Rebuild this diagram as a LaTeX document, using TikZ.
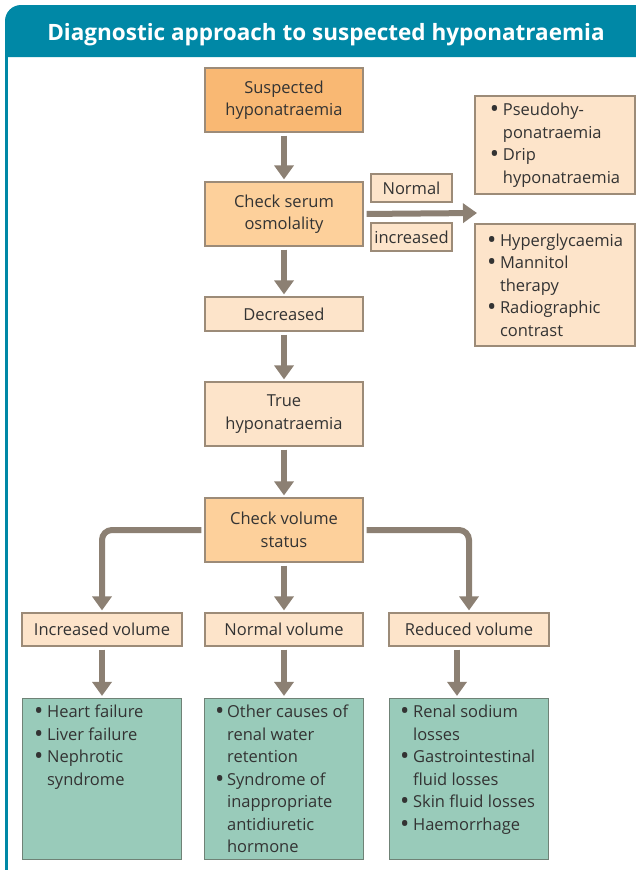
\documentclass[tikz,border=0pt]{standalone}
\usepackage{fontspec}
\usepackage{graphicx}
\setmainfont{Open Sans}
\usetikzlibrary{arrows.meta}
\definecolor{tealc}{HTML}{0088A6}
\definecolor{darkor}{HTML}{F9B873}
\definecolor{midor}{HTML}{FDD09B}
\definecolor{paleor}{HTML}{FDE4CA}
\definecolor{greenc}{HTML}{99CBBA}
\definecolor{bordc}{HTML}{9C8B78}
\definecolor{gbord}{HTML}{6F8276}
\definecolor{arrc}{HTML}{8C8073}
\definecolor{txt}{HTML}{333333}
\newcommand{\bdot}{\raisebox{-2.2pt}{\scalebox{1.5}{\textbullet}}}
\newcommand{\bl}{\makebox[13pt][l]{\bdot}}
\newcommand{\ind}{\hspace*{13pt}}
\begin{document}
\begin{tikzpicture}[x=1pt,y=-1pt,
  base/.style={draw=bordc, line width=1.2pt, inner sep=0pt, align=center, text=txt,
    font=\fontsize{16.5}{22.5}\selectfont},
  darkbox/.style={base, fill=darkor},
  midbox/.style={base, fill=midor},
  palebox/.style={base, fill=paleor},
  greenbox/.style={base, draw=gbord, fill=greenc, minimum width=159, minimum height=161},
  gtext/.style={anchor=north west, inner sep=0pt, align=left, text=txt,
    font=\fontsize{16.5}{22.5}\selectfont},
  arr/.style={draw=arrc, line width=6pt, -{Triangle[length=14pt,width=19pt]},
    shorten <=3pt, shorten >=2pt}
]
\useasboundingbox (0,0) rectangle (636,870);
\fill[white] (0,0) rectangle (636,870);
% frame
\fill[tealc] (5,57) [rounded corners=16pt] -- (5,5) [sharp corners] -- (636,5) -- (636,57) -- cycle;
\fill[tealc] (5,57) rectangle (8,870);
\node[text=white, font=\fontsize{22.5}{26}\selectfont\bfseries] (title) at (326,35) {Diagnostic approach to suspected hyponatraemia};

% main column
\node[darkbox, minimum width=158, minimum height=64] (susp) at (284,100) {Suspected\\hyponatraemia};
\node[midbox, minimum width=158, minimum height=64] (serum) at (284,214) {Check serum\\osmolality};
\node[palebox, minimum width=81, minimum height=28] (normal) at (411.5,188) {Normal};
\node[palebox, minimum width=81, minimum height=28] (incr) at (411.5,237) {increased};
\node[palebox, minimum width=160, minimum height=98, align=left] (pseudo) at (555,145)
  {\bl Pseudohy-\\\ind ponatraemia\\\bl Drip\\\ind hyponatraemia};
\node[palebox, minimum width=160, minimum height=122, align=left] (hyper) at (555,285)
  {\bl Hyperglycaemia\\\bl Mannitol\\\ind therapy\\\bl Radiographic\\\ind contrast};
\coordinate (tipR) at (477,213);
\node[palebox, minimum width=158, minimum height=34] (decr) at (284,314) {Decreased};
\node[palebox, minimum width=158, minimum height=64] (true) at (284,414) {True\\hyponatraemia};
\node[midbox, minimum width=158, minimum height=64] (vol) at (284,530) {Check volume\\status};

% volume row
\node[palebox, minimum width=160, minimum height=33] (incvol) at (102,629.5) {Increased volume};
\node[palebox, minimum width=158, minimum height=33] (normvol) at (284,629.5) {Normal volume};
\node[palebox, minimum width=160, minimum height=33] (redvol) at (469,629.5) {Reduced volume};

% green boxes
\node[greenbox] (g1) at (102,779) {};
\node[greenbox] (g2) at (284,779) {};
\node[greenbox] (g3) at (469,779) {};
\node[gtext] (g1t) at ([xshift=12,yshift=-7]g1.north west)
  {\bl Heart failure\\\bl Liver failure\\\bl Nephrotic\\\ind syndrome};
\node[gtext] (g2t) at ([xshift=11,yshift=-7]g2.north west)
  {\makebox[12pt][l]{\bdot}Other causes of\\\hspace*{12pt}renal water\\\hspace*{12pt}retention\\\makebox[12pt][l]{\bdot}Syndrome of\\\hspace*{12pt}inappropriate\\\hspace*{12pt}antidiuretic\\\hspace*{12pt}hormone};
\node[gtext] (g3t) at ([xshift=11,yshift=-7]g3.north west)
  {\bl Renal sodium\\\ind losses\\\bl Gastrointestinal\\\ind fluid losses\\\bl Skin fluid losses\\\bl Haemorrhage};

% arrows
\draw[arr] (susp) -- (serum);
\draw[arr] (serum) -- (decr);
\draw[arr] (decr) -- (true);
\draw[arr] (true) -- (vol);
\draw[arr] (vol) -- (normvol);
\draw[arr, shorten >=0pt] (serum.east) -- (tipR);
\draw[arr, rounded corners=10pt] (vol.west) -| (incvol.north);
\draw[arr, rounded corners=10pt] (vol.east) -| (redvol.north);
\draw[arr] (incvol) -- (g1);
\draw[arr] (normvol) -- (g2);
\draw[arr] ([xshift=-12pt]redvol.south) -- ([xshift=-12pt]g3.north);
\end{tikzpicture}
\end{document}
